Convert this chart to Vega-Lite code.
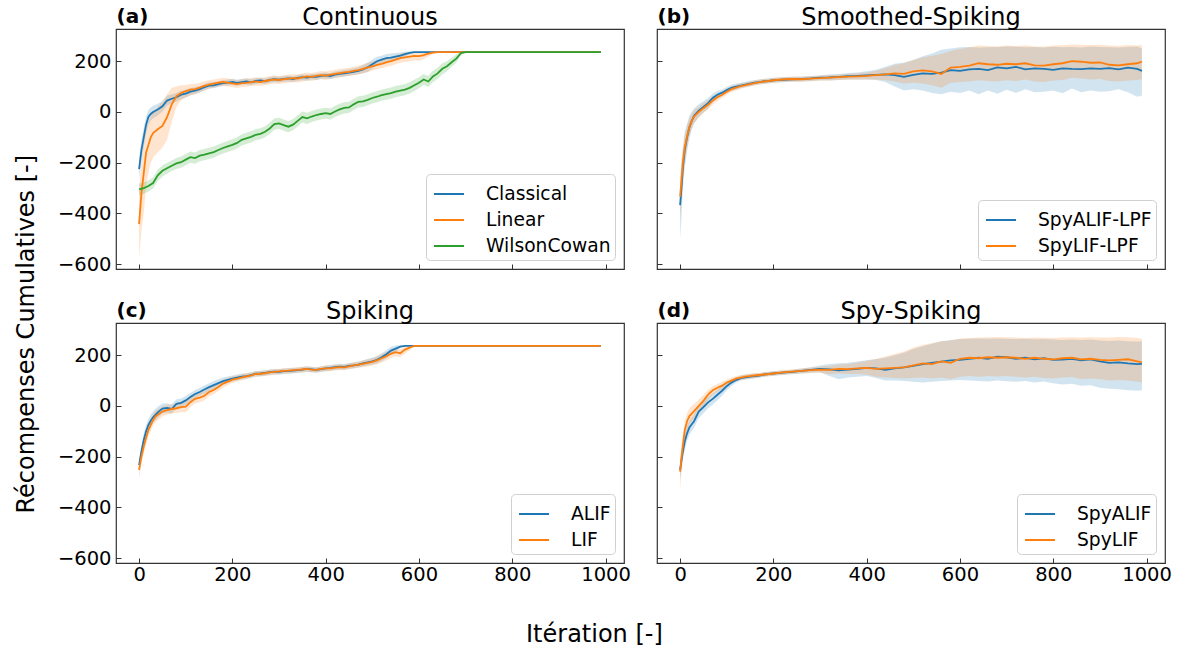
{
"$schema": "https://vega.github.io/schema/vega-lite/v6.json",
"background": "white",
"padding": {"left": 14, "top": 5, "right": 5, "bottom": 5},
"config": {
  "font": "DejaVu Sans",
  "view": {"stroke": "#333333", "strokeWidth": 1.2},
  "axis": {"grid": false, "domain": false, "tickSize": -5, "tickColor": "#333333", "tickWidth": 1, "labelFontSize": 19.5, "labelColor": "#000000", "labelFlush": false, "labelOverlap": false},
  "axisX": {"labelPadding": 7, "format": "d"},
  "axisY": {"labelPadding": 10},
  "title": {"fontSize": 24, "fontWeight": "normal", "color": "#000000"},
  "legend": {"orient": "bottom-right", "offset": 9, "symbolType": "stroke", "symbolStrokeWidth": 2, "symbolSize": 900, "symbolOffset": 3, "symbolOpacity": 1, "labelFontSize": 18.7, "labelOffset": 21, "rowPadding": -1, "padding": 4, "strokeColor": "#d0d0d0", "fillColor": "rgba(255,255,255,0.8)", "cornerRadius": 4, "labelLimit": 300, "labelColor": "#000000"}
},
"datasets": {
"a": [
{"s":"Classical","x":0,"m":-225,"lo":-265,"hi":-185},{"s":"Classical","x":5,"m":-150,"lo":-190,"hi":-110},{"s":"Classical","x":10,"m":-100,"lo":-140,"hi":-62},{"s":"Classical","x":15,"m":-50,"lo":-85,"hi":-18},{"s":"Classical","x":20,"m":-20,"lo":-50,"hi":8},{"s":"Classical","x":25,"m":-8,"lo":-33,"hi":18},{"s":"Classical","x":30,"m":0,"lo":-25,"hi":24},{"s":"Classical","x":35,"m":5,"lo":-20,"hi":28},{"s":"Classical","x":40,"m":10,"lo":-14,"hi":32},{"s":"Classical","x":50,"m":22,"lo":2,"hi":42},{"s":"Classical","x":60,"m":45,"lo":25,"hi":64},{"s":"Classical","x":70,"m":52,"lo":34,"hi":70},{"s":"Classical","x":80,"m":58,"lo":40,"hi":75},{"s":"Classical","x":90,"m":68,"lo":50,"hi":85},{"s":"Classical","x":100,"m":72,"lo":57,"hi":88},{"s":"Classical","x":110,"m":80,"lo":66,"hi":94},{"s":"Classical","x":120,"m":84,"lo":71,"hi":97},{"s":"Classical","x":130,"m":90,"lo":77,"hi":102},{"s":"Classical","x":140,"m":98,"lo":86,"hi":110},{"s":"Classical","x":150,"m":104,"lo":92,"hi":116},{"s":"Classical","x":160,"m":105,"lo":93,"hi":118},{"s":"Classical","x":170,"m":110,"lo":98,"hi":121},{"s":"Classical","x":180,"m":114,"lo":103,"hi":126},{"s":"Classical","x":190,"m":116,"lo":104,"hi":128},{"s":"Classical","x":200,"m":118,"lo":106,"hi":131},{"s":"Classical","x":210,"m":115,"lo":103,"hi":127},{"s":"Classical","x":220,"m":118,"lo":107,"hi":130},{"s":"Classical","x":230,"m":120,"lo":108,"hi":133},{"s":"Classical","x":240,"m":117,"lo":105,"hi":129},{"s":"Classical","x":250,"m":122,"lo":110,"hi":134},{"s":"Classical","x":260,"m":124,"lo":113,"hi":136},{"s":"Classical","x":270,"m":121,"lo":109,"hi":132},{"s":"Classical","x":280,"m":126,"lo":115,"hi":138},{"s":"Classical","x":290,"m":129,"lo":117,"hi":141},{"s":"Classical","x":300,"m":127,"lo":116,"hi":139},{"s":"Classical","x":310,"m":130,"lo":119,"hi":142},{"s":"Classical","x":320,"m":132,"lo":120,"hi":144},{"s":"Classical","x":330,"m":130,"lo":118,"hi":141},{"s":"Classical","x":340,"m":134,"lo":123,"hi":146},{"s":"Classical","x":350,"m":137,"lo":125,"hi":149},{"s":"Classical","x":360,"m":135,"lo":123,"hi":147},{"s":"Classical","x":370,"m":139,"lo":128,"hi":150},{"s":"Classical","x":380,"m":138,"lo":126,"hi":151},{"s":"Classical","x":390,"m":142,"lo":131,"hi":154},{"s":"Classical","x":400,"m":144,"lo":132,"hi":156},{"s":"Classical","x":410,"m":141,"lo":129,"hi":153},{"s":"Classical","x":420,"m":147,"lo":135,"hi":159},{"s":"Classical","x":430,"m":150,"lo":138,"hi":162},{"s":"Classical","x":440,"m":152,"lo":140,"hi":165},{"s":"Classical","x":450,"m":155,"lo":143,"hi":168},{"s":"Classical","x":460,"m":158,"lo":145,"hi":171},{"s":"Classical","x":470,"m":162,"lo":149,"hi":176},{"s":"Classical","x":480,"m":168,"lo":153,"hi":184},{"s":"Classical","x":490,"m":176,"lo":158,"hi":195},{"s":"Classical","x":500,"m":188,"lo":170,"hi":206},{"s":"Classical","x":510,"m":200,"lo":182,"hi":218},{"s":"Classical","x":520,"m":206,"lo":190,"hi":222},{"s":"Classical","x":530,"m":212,"lo":196,"hi":228},{"s":"Classical","x":540,"m":214,"lo":199,"hi":230},{"s":"Classical","x":550,"m":218,"lo":204,"hi":232},{"s":"Classical","x":560,"m":222,"lo":210,"hi":234},{"s":"Classical","x":570,"m":228,"lo":219,"hi":237},{"s":"Classical","x":580,"m":233,"lo":228,"hi":238},{"s":"Classical","x":590,"m":236,"lo":234,"hi":238},{"s":"Classical","x":600,"m":236,"lo":236,"hi":236},{"s":"Classical","x":990,"m":236,"lo":236,"hi":236},
{"s":"Linear","x":0,"m":-442,"lo":-577,"hi":-310},{"s":"Linear","x":5,"m":-320,"lo":-470,"hi":-190},{"s":"Linear","x":10,"m":-241,"lo":-400,"hi":-120},{"s":"Linear","x":15,"m":-160,"lo":-290,"hi":-60},{"s":"Linear","x":20,"m":-130,"lo":-240,"hi":-40},{"s":"Linear","x":25,"m":-100,"lo":-200,"hi":-20},{"s":"Linear","x":30,"m":-83,"lo":-180,"hi":0},{"s":"Linear","x":40,"m":-68,"lo":-160,"hi":20},{"s":"Linear","x":50,"m":-55,"lo":-140,"hi":40},{"s":"Linear","x":60,"m":-20,"lo":-110,"hi":70},{"s":"Linear","x":70,"m":30,"lo":-40,"hi":95},{"s":"Linear","x":80,"m":62,"lo":20,"hi":100},{"s":"Linear","x":90,"m":75,"lo":45,"hi":105},{"s":"Linear","x":100,"m":82,"lo":57,"hi":106},{"s":"Linear","x":110,"m":88,"lo":65,"hi":110},{"s":"Linear","x":120,"m":90,"lo":70,"hi":111},{"s":"Linear","x":130,"m":96,"lo":77,"hi":115},{"s":"Linear","x":140,"m":103,"lo":85,"hi":121},{"s":"Linear","x":150,"m":108,"lo":91,"hi":125},{"s":"Linear","x":160,"m":112,"lo":96,"hi":128},{"s":"Linear","x":170,"m":116,"lo":100,"hi":132},{"s":"Linear","x":180,"m":118,"lo":102,"hi":134},{"s":"Linear","x":190,"m":116,"lo":100,"hi":132},{"s":"Linear","x":200,"m":113,"lo":97,"hi":129},{"s":"Linear","x":210,"m":110,"lo":94,"hi":126},{"s":"Linear","x":220,"m":114,"lo":98,"hi":130},{"s":"Linear","x":230,"m":115,"lo":99,"hi":131},{"s":"Linear","x":240,"m":118,"lo":102,"hi":134},{"s":"Linear","x":250,"m":120,"lo":104,"hi":136},{"s":"Linear","x":260,"m":118,"lo":102,"hi":134},{"s":"Linear","x":270,"m":122,"lo":106,"hi":138},{"s":"Linear","x":280,"m":125,"lo":109,"hi":141},{"s":"Linear","x":290,"m":128,"lo":112,"hi":144},{"s":"Linear","x":300,"m":126,"lo":110,"hi":142},{"s":"Linear","x":310,"m":129,"lo":113,"hi":145},{"s":"Linear","x":320,"m":131,"lo":115,"hi":147},{"s":"Linear","x":330,"m":133,"lo":117,"hi":149},{"s":"Linear","x":340,"m":132,"lo":116,"hi":148},{"s":"Linear","x":350,"m":136,"lo":120,"hi":152},{"s":"Linear","x":360,"m":140,"lo":124,"hi":156},{"s":"Linear","x":370,"m":138,"lo":122,"hi":154},{"s":"Linear","x":380,"m":142,"lo":126,"hi":158},{"s":"Linear","x":390,"m":145,"lo":129,"hi":161},{"s":"Linear","x":400,"m":143,"lo":127,"hi":159},{"s":"Linear","x":410,"m":147,"lo":131,"hi":163},{"s":"Linear","x":420,"m":150,"lo":134,"hi":166},{"s":"Linear","x":430,"m":153,"lo":137,"hi":169},{"s":"Linear","x":440,"m":156,"lo":140,"hi":172},{"s":"Linear","x":450,"m":158,"lo":142,"hi":174},{"s":"Linear","x":460,"m":162,"lo":146,"hi":178},{"s":"Linear","x":470,"m":165,"lo":148,"hi":182},{"s":"Linear","x":480,"m":170,"lo":152,"hi":188},{"s":"Linear","x":490,"m":176,"lo":158,"hi":194},{"s":"Linear","x":500,"m":180,"lo":162,"hi":198},{"s":"Linear","x":510,"m":186,"lo":168,"hi":204},{"s":"Linear","x":520,"m":190,"lo":172,"hi":208},{"s":"Linear","x":530,"m":195,"lo":177,"hi":213},{"s":"Linear","x":540,"m":200,"lo":182,"hi":218},{"s":"Linear","x":550,"m":206,"lo":188,"hi":224},{"s":"Linear","x":560,"m":212,"lo":194,"hi":230},{"s":"Linear","x":570,"m":215,"lo":197,"hi":233},{"s":"Linear","x":580,"m":218,"lo":200,"hi":236},{"s":"Linear","x":590,"m":221,"lo":203,"hi":238},{"s":"Linear","x":600,"m":220,"lo":202,"hi":238},{"s":"Linear","x":610,"m":224,"lo":208,"hi":240},{"s":"Linear","x":620,"m":230,"lo":218,"hi":240},{"s":"Linear","x":630,"m":234,"lo":228,"hi":239},{"s":"Linear","x":640,"m":236,"lo":235,"hi":237},{"s":"Linear","x":650,"m":236,"lo":236,"hi":236},{"s":"Linear","x":990,"m":236,"lo":236,"hi":236},
{"s":"WilsonCowan","x":0,"m":-305,"lo":-328,"hi":-282},{"s":"WilsonCowan","x":10,"m":-300,"lo":-322,"hi":-278},{"s":"WilsonCowan","x":20,"m":-292,"lo":-314,"hi":-270},{"s":"WilsonCowan","x":30,"m":-280,"lo":-302,"hi":-258},{"s":"WilsonCowan","x":40,"m":-250,"lo":-272,"hi":-228},{"s":"WilsonCowan","x":50,"m":-232,"lo":-254,"hi":-210},{"s":"WilsonCowan","x":60,"m":-222,"lo":-244,"hi":-200},{"s":"WilsonCowan","x":70,"m":-212,"lo":-233,"hi":-191},{"s":"WilsonCowan","x":80,"m":-203,"lo":-225,"hi":-181},{"s":"WilsonCowan","x":90,"m":-198,"lo":-220,"hi":-176},{"s":"WilsonCowan","x":100,"m":-188,"lo":-210,"hi":-166},{"s":"WilsonCowan","x":110,"m":-178,"lo":-200,"hi":-156},{"s":"WilsonCowan","x":120,"m":-182,"lo":-204,"hi":-160},{"s":"WilsonCowan","x":130,"m":-172,"lo":-194,"hi":-150},{"s":"WilsonCowan","x":140,"m":-168,"lo":-190,"hi":-146},{"s":"WilsonCowan","x":150,"m":-163,"lo":-185,"hi":-141},{"s":"WilsonCowan","x":160,"m":-158,"lo":-180,"hi":-136},{"s":"WilsonCowan","x":170,"m":-150,"lo":-172,"hi":-128},{"s":"WilsonCowan","x":180,"m":-142,"lo":-164,"hi":-120},{"s":"WilsonCowan","x":190,"m":-136,"lo":-158,"hi":-114},{"s":"WilsonCowan","x":200,"m":-130,"lo":-152,"hi":-108},{"s":"WilsonCowan","x":210,"m":-122,"lo":-144,"hi":-100},{"s":"WilsonCowan","x":220,"m":-110,"lo":-132,"hi":-88},{"s":"WilsonCowan","x":230,"m":-104,"lo":-126,"hi":-82},{"s":"WilsonCowan","x":240,"m":-98,"lo":-120,"hi":-76},{"s":"WilsonCowan","x":250,"m":-90,"lo":-112,"hi":-68},{"s":"WilsonCowan","x":260,"m":-86,"lo":-108,"hi":-64},{"s":"WilsonCowan","x":270,"m":-78,"lo":-100,"hi":-56},{"s":"WilsonCowan","x":280,"m":-65,"lo":-87,"hi":-43},{"s":"WilsonCowan","x":290,"m":-48,"lo":-70,"hi":-26},{"s":"WilsonCowan","x":300,"m":-45,"lo":-67,"hi":-23},{"s":"WilsonCowan","x":310,"m":-52,"lo":-74,"hi":-30},{"s":"WilsonCowan","x":320,"m":-58,"lo":-80,"hi":-36},{"s":"WilsonCowan","x":330,"m":-50,"lo":-72,"hi":-28},{"s":"WilsonCowan","x":340,"m":-35,"lo":-57,"hi":-13},{"s":"WilsonCowan","x":350,"m":-20,"lo":-42,"hi":2},{"s":"WilsonCowan","x":360,"m":-25,"lo":-47,"hi":-3},{"s":"WilsonCowan","x":370,"m":-18,"lo":-40,"hi":4},{"s":"WilsonCowan","x":380,"m":-12,"lo":-34,"hi":10},{"s":"WilsonCowan","x":390,"m":-8,"lo":-30,"hi":14},{"s":"WilsonCowan","x":400,"m":-5,"lo":-27,"hi":17},{"s":"WilsonCowan","x":410,"m":-8,"lo":-30,"hi":14},{"s":"WilsonCowan","x":420,"m":2,"lo":-20,"hi":24},{"s":"WilsonCowan","x":430,"m":10,"lo":-12,"hi":32},{"s":"WilsonCowan","x":440,"m":16,"lo":-6,"hi":38},{"s":"WilsonCowan","x":450,"m":18,"lo":-4,"hi":40},{"s":"WilsonCowan","x":460,"m":30,"lo":8,"hi":52},{"s":"WilsonCowan","x":470,"m":40,"lo":18,"hi":62},{"s":"WilsonCowan","x":480,"m":42,"lo":20,"hi":64},{"s":"WilsonCowan","x":490,"m":48,"lo":26,"hi":70},{"s":"WilsonCowan","x":500,"m":55,"lo":33,"hi":77},{"s":"WilsonCowan","x":510,"m":60,"lo":38,"hi":82},{"s":"WilsonCowan","x":520,"m":66,"lo":44,"hi":88},{"s":"WilsonCowan","x":530,"m":70,"lo":48,"hi":92},{"s":"WilsonCowan","x":540,"m":74,"lo":52,"hi":96},{"s":"WilsonCowan","x":550,"m":80,"lo":58,"hi":102},{"s":"WilsonCowan","x":560,"m":84,"lo":62,"hi":106},{"s":"WilsonCowan","x":570,"m":88,"lo":66,"hi":110},{"s":"WilsonCowan","x":580,"m":95,"lo":73,"hi":117},{"s":"WilsonCowan","x":590,"m":105,"lo":83,"hi":127},{"s":"WilsonCowan","x":600,"m":115,"lo":93,"hi":137},{"s":"WilsonCowan","x":610,"m":128,"lo":106,"hi":150},{"s":"WilsonCowan","x":620,"m":120,"lo":98,"hi":142},{"s":"WilsonCowan","x":630,"m":140,"lo":118,"hi":162},{"s":"WilsonCowan","x":640,"m":152,"lo":130,"hi":174},{"s":"WilsonCowan","x":650,"m":170,"lo":148,"hi":192},{"s":"WilsonCowan","x":660,"m":180,"lo":160,"hi":200},{"s":"WilsonCowan","x":670,"m":196,"lo":178,"hi":214},{"s":"WilsonCowan","x":680,"m":210,"lo":194,"hi":226},{"s":"WilsonCowan","x":690,"m":232,"lo":225,"hi":239},{"s":"WilsonCowan","x":700,"m":236,"lo":236,"hi":236},{"s":"WilsonCowan","x":990,"m":236,"lo":236,"hi":236}
],
"b": [
{"s":"SpyALIF-LPF","x":0,"m":-367,"lo":-500,"hi":-290},{"s":"SpyALIF-LPF","x":3,"m":-300,"lo":-420,"hi":-200},{"s":"SpyALIF-LPF","x":6,"m":-220,"lo":-300,"hi":-140},{"s":"SpyALIF-LPF","x":10,"m":-150,"lo":-220,"hi":-80},{"s":"SpyALIF-LPF","x":15,"m":-100,"lo":-155,"hi":-45},{"s":"SpyALIF-LPF","x":20,"m":-60,"lo":-105,"hi":-15},{"s":"SpyALIF-LPF","x":25,"m":-35,"lo":-70,"hi":0},{"s":"SpyALIF-LPF","x":30,"m":-15,"lo":-45,"hi":15},{"s":"SpyALIF-LPF","x":40,"m":5,"lo":-20,"hi":30},{"s":"SpyALIF-LPF","x":50,"m":20,"lo":-2,"hi":42},{"s":"SpyALIF-LPF","x":60,"m":35,"lo":15,"hi":55},{"s":"SpyALIF-LPF","x":70,"m":55,"lo":37,"hi":73},{"s":"SpyALIF-LPF","x":80,"m":68,"lo":53,"hi":83},{"s":"SpyALIF-LPF","x":90,"m":76,"lo":63,"hi":89},{"s":"SpyALIF-LPF","x":100,"m":86,"lo":74,"hi":98},{"s":"SpyALIF-LPF","x":110,"m":95,"lo":83,"hi":107},{"s":"SpyALIF-LPF","x":120,"m":100,"lo":88,"hi":112},{"s":"SpyALIF-LPF","x":130,"m":104,"lo":93,"hi":115},{"s":"SpyALIF-LPF","x":140,"m":108,"lo":97,"hi":119},{"s":"SpyALIF-LPF","x":150,"m":112,"lo":101,"hi":123},{"s":"SpyALIF-LPF","x":160,"m":116,"lo":106,"hi":126},{"s":"SpyALIF-LPF","x":170,"m":118,"lo":108,"hi":128},{"s":"SpyALIF-LPF","x":180,"m":121,"lo":111,"hi":131},{"s":"SpyALIF-LPF","x":190,"m":122,"lo":112,"hi":132},{"s":"SpyALIF-LPF","x":200,"m":125,"lo":115,"hi":135},{"s":"SpyALIF-LPF","x":220,"m":127,"lo":117,"hi":137},{"s":"SpyALIF-LPF","x":240,"m":129,"lo":119,"hi":139},{"s":"SpyALIF-LPF","x":260,"m":130,"lo":120,"hi":140},{"s":"SpyALIF-LPF","x":280,"m":132,"lo":122,"hi":142},{"s":"SpyALIF-LPF","x":300,"m":135,"lo":125,"hi":145},{"s":"SpyALIF-LPF","x":320,"m":136,"lo":124,"hi":148},{"s":"SpyALIF-LPF","x":340,"m":138,"lo":126,"hi":150},{"s":"SpyALIF-LPF","x":360,"m":141,"lo":128,"hi":154},{"s":"SpyALIF-LPF","x":380,"m":142,"lo":128,"hi":156},{"s":"SpyALIF-LPF","x":400,"m":144,"lo":128,"hi":160},{"s":"SpyALIF-LPF","x":420,"m":146,"lo":126,"hi":166},{"s":"SpyALIF-LPF","x":440,"m":148,"lo":118,"hi":178},{"s":"SpyALIF-LPF","x":460,"m":145,"lo":100,"hi":190},{"s":"SpyALIF-LPF","x":480,"m":138,"lo":85,"hi":195},{"s":"SpyALIF-LPF","x":500,"m":146,"lo":90,"hi":205},{"s":"SpyALIF-LPF","x":520,"m":152,"lo":85,"hi":220},{"s":"SpyALIF-LPF","x":540,"m":150,"lo":75,"hi":230},{"s":"SpyALIF-LPF","x":560,"m":155,"lo":70,"hi":245},{"s":"SpyALIF-LPF","x":580,"m":165,"lo":80,"hi":250},{"s":"SpyALIF-LPF","x":600,"m":162,"lo":75,"hi":255},{"s":"SpyALIF-LPF","x":620,"m":168,"lo":85,"hi":256},{"s":"SpyALIF-LPF","x":640,"m":170,"lo":70,"hi":254},{"s":"SpyALIF-LPF","x":660,"m":165,"lo":85,"hi":255},{"s":"SpyALIF-LPF","x":680,"m":176,"lo":72,"hi":256},{"s":"SpyALIF-LPF","x":700,"m":172,"lo":88,"hi":258},{"s":"SpyALIF-LPF","x":720,"m":178,"lo":75,"hi":257},{"s":"SpyALIF-LPF","x":740,"m":168,"lo":90,"hi":255},{"s":"SpyALIF-LPF","x":760,"m":172,"lo":78,"hi":256},{"s":"SpyALIF-LPF","x":780,"m":170,"lo":80,"hi":254},{"s":"SpyALIF-LPF","x":800,"m":166,"lo":85,"hi":257},{"s":"SpyALIF-LPF","x":820,"m":172,"lo":74,"hi":255},{"s":"SpyALIF-LPF","x":840,"m":170,"lo":92,"hi":256},{"s":"SpyALIF-LPF","x":860,"m":169,"lo":78,"hi":254},{"s":"SpyALIF-LPF","x":880,"m":172,"lo":85,"hi":258},{"s":"SpyALIF-LPF","x":900,"m":170,"lo":80,"hi":256},{"s":"SpyALIF-LPF","x":920,"m":173,"lo":82,"hi":255},{"s":"SpyALIF-LPF","x":940,"m":168,"lo":90,"hi":254},{"s":"SpyALIF-LPF","x":960,"m":175,"lo":78,"hi":256},{"s":"SpyALIF-LPF","x":980,"m":170,"lo":60,"hi":258},{"s":"SpyALIF-LPF","x":990,"m":162,"lo":65,"hi":250},
{"s":"SpyLIF-LPF","x":0,"m":-334,"lo":-420,"hi":-260},{"s":"SpyLIF-LPF","x":3,"m":-270,"lo":-360,"hi":-190},{"s":"SpyLIF-LPF","x":6,"m":-200,"lo":-270,"hi":-140},{"s":"SpyLIF-LPF","x":10,"m":-140,"lo":-200,"hi":-90},{"s":"SpyLIF-LPF","x":15,"m":-95,"lo":-140,"hi":-55},{"s":"SpyLIF-LPF","x":20,"m":-58,"lo":-95,"hi":-25},{"s":"SpyLIF-LPF","x":25,"m":-35,"lo":-65,"hi":-8},{"s":"SpyLIF-LPF","x":30,"m":-18,"lo":-45,"hi":8},{"s":"SpyLIF-LPF","x":40,"m":0,"lo":-22,"hi":20},{"s":"SpyLIF-LPF","x":50,"m":15,"lo":-5,"hi":35},{"s":"SpyLIF-LPF","x":60,"m":28,"lo":10,"hi":46},{"s":"SpyLIF-LPF","x":70,"m":45,"lo":28,"hi":62},{"s":"SpyLIF-LPF","x":80,"m":58,"lo":43,"hi":73},{"s":"SpyLIF-LPF","x":90,"m":68,"lo":55,"hi":81},{"s":"SpyLIF-LPF","x":100,"m":80,"lo":68,"hi":92},{"s":"SpyLIF-LPF","x":110,"m":90,"lo":79,"hi":101},{"s":"SpyLIF-LPF","x":120,"m":96,"lo":85,"hi":107},{"s":"SpyLIF-LPF","x":130,"m":102,"lo":91,"hi":113},{"s":"SpyLIF-LPF","x":140,"m":106,"lo":96,"hi":116},{"s":"SpyLIF-LPF","x":150,"m":110,"lo":100,"hi":120},{"s":"SpyLIF-LPF","x":160,"m":114,"lo":104,"hi":124},{"s":"SpyLIF-LPF","x":170,"m":118,"lo":108,"hi":128},{"s":"SpyLIF-LPF","x":180,"m":120,"lo":110,"hi":130},{"s":"SpyLIF-LPF","x":190,"m":122,"lo":112,"hi":132},{"s":"SpyLIF-LPF","x":200,"m":125,"lo":115,"hi":135},{"s":"SpyLIF-LPF","x":220,"m":128,"lo":118,"hi":138},{"s":"SpyLIF-LPF","x":240,"m":130,"lo":120,"hi":140},{"s":"SpyLIF-LPF","x":260,"m":129,"lo":119,"hi":139},{"s":"SpyLIF-LPF","x":280,"m":131,"lo":121,"hi":141},{"s":"SpyLIF-LPF","x":300,"m":133,"lo":123,"hi":143},{"s":"SpyLIF-LPF","x":320,"m":135,"lo":124,"hi":146},{"s":"SpyLIF-LPF","x":340,"m":137,"lo":126,"hi":148},{"s":"SpyLIF-LPF","x":360,"m":139,"lo":127,"hi":151},{"s":"SpyLIF-LPF","x":380,"m":140,"lo":127,"hi":153},{"s":"SpyLIF-LPF","x":400,"m":142,"lo":128,"hi":156},{"s":"SpyLIF-LPF","x":420,"m":145,"lo":128,"hi":162},{"s":"SpyLIF-LPF","x":440,"m":148,"lo":125,"hi":172},{"s":"SpyLIF-LPF","x":460,"m":152,"lo":120,"hi":185},{"s":"SpyLIF-LPF","x":480,"m":150,"lo":112,"hi":192},{"s":"SpyLIF-LPF","x":500,"m":160,"lo":115,"hi":205},{"s":"SpyLIF-LPF","x":520,"m":164,"lo":112,"hi":215},{"s":"SpyLIF-LPF","x":540,"m":160,"lo":105,"hi":222},{"s":"SpyLIF-LPF","x":560,"m":150,"lo":95,"hi":228},{"s":"SpyLIF-LPF","x":580,"m":175,"lo":115,"hi":240},{"s":"SpyLIF-LPF","x":600,"m":178,"lo":118,"hi":248},{"s":"SpyLIF-LPF","x":620,"m":183,"lo":120,"hi":255},{"s":"SpyLIF-LPF","x":640,"m":192,"lo":125,"hi":262},{"s":"SpyLIF-LPF","x":660,"m":188,"lo":122,"hi":260},{"s":"SpyLIF-LPF","x":680,"m":186,"lo":120,"hi":258},{"s":"SpyLIF-LPF","x":700,"m":190,"lo":125,"hi":262},{"s":"SpyLIF-LPF","x":720,"m":188,"lo":122,"hi":260},{"s":"SpyLIF-LPF","x":740,"m":192,"lo":128,"hi":263},{"s":"SpyLIF-LPF","x":760,"m":184,"lo":120,"hi":258},{"s":"SpyLIF-LPF","x":780,"m":183,"lo":118,"hi":258},{"s":"SpyLIF-LPF","x":800,"m":188,"lo":124,"hi":262},{"s":"SpyLIF-LPF","x":820,"m":192,"lo":126,"hi":263},{"s":"SpyLIF-LPF","x":840,"m":200,"lo":135,"hi":266},{"s":"SpyLIF-LPF","x":860,"m":198,"lo":132,"hi":265},{"s":"SpyLIF-LPF","x":880,"m":194,"lo":128,"hi":264},{"s":"SpyLIF-LPF","x":900,"m":195,"lo":130,"hi":265},{"s":"SpyLIF-LPF","x":920,"m":186,"lo":122,"hi":262},{"s":"SpyLIF-LPF","x":940,"m":184,"lo":120,"hi":260},{"s":"SpyLIF-LPF","x":960,"m":188,"lo":124,"hi":264},{"s":"SpyLIF-LPF","x":980,"m":192,"lo":126,"hi":262},{"s":"SpyLIF-LPF","x":990,"m":198,"lo":130,"hi":265}
],
"c": [
{"s":"ALIF","x":0,"m":-233,"lo":-258,"hi":-208},{"s":"ALIF","x":5,"m":-180,"lo":-205,"hi":-155},{"s":"ALIF","x":10,"m":-134,"lo":-159,"hi":-109},{"s":"ALIF","x":15,"m":-100,"lo":-125,"hi":-75},{"s":"ALIF","x":20,"m":-75,"lo":-100,"hi":-50},{"s":"ALIF","x":25,"m":-58,"lo":-82,"hi":-34},{"s":"ALIF","x":30,"m":-45,"lo":-68,"hi":-22},{"s":"ALIF","x":35,"m":-35,"lo":-58,"hi":-12},{"s":"ALIF","x":40,"m":-25,"lo":-47,"hi":-3},{"s":"ALIF","x":50,"m":-10,"lo":-30,"hi":10},{"s":"ALIF","x":60,"m":-8,"lo":-27,"hi":11},{"s":"ALIF","x":70,"m":-12,"lo":-30,"hi":6},{"s":"ALIF","x":80,"m":8,"lo":-10,"hi":26},{"s":"ALIF","x":90,"m":12,"lo":-5,"hi":29},{"s":"ALIF","x":100,"m":22,"lo":5,"hi":39},{"s":"ALIF","x":110,"m":35,"lo":19,"hi":51},{"s":"ALIF","x":120,"m":47,"lo":31,"hi":63},{"s":"ALIF","x":130,"m":55,"lo":39,"hi":71},{"s":"ALIF","x":140,"m":65,"lo":49,"hi":81},{"s":"ALIF","x":150,"m":74,"lo":58,"hi":90},{"s":"ALIF","x":160,"m":82,"lo":66,"hi":98},{"s":"ALIF","x":170,"m":90,"lo":75,"hi":105},{"s":"ALIF","x":180,"m":98,"lo":84,"hi":112},{"s":"ALIF","x":190,"m":103,"lo":90,"hi":116},{"s":"ALIF","x":200,"m":108,"lo":96,"hi":120},{"s":"ALIF","x":210,"m":112,"lo":100,"hi":124},{"s":"ALIF","x":220,"m":116,"lo":104,"hi":128},{"s":"ALIF","x":230,"m":118,"lo":107,"hi":129},{"s":"ALIF","x":240,"m":122,"lo":111,"hi":133},{"s":"ALIF","x":250,"m":127,"lo":116,"hi":138},{"s":"ALIF","x":260,"m":128,"lo":117,"hi":139},{"s":"ALIF","x":270,"m":130,"lo":119,"hi":141},{"s":"ALIF","x":280,"m":133,"lo":122,"hi":144},{"s":"ALIF","x":290,"m":135,"lo":124,"hi":146},{"s":"ALIF","x":300,"m":134,"lo":123,"hi":145},{"s":"ALIF","x":310,"m":137,"lo":126,"hi":148},{"s":"ALIF","x":320,"m":138,"lo":127,"hi":149},{"s":"ALIF","x":330,"m":139,"lo":128,"hi":150},{"s":"ALIF","x":340,"m":141,"lo":130,"hi":152},{"s":"ALIF","x":350,"m":143,"lo":132,"hi":154},{"s":"ALIF","x":360,"m":146,"lo":135,"hi":157},{"s":"ALIF","x":370,"m":144,"lo":133,"hi":155},{"s":"ALIF","x":380,"m":142,"lo":131,"hi":153},{"s":"ALIF","x":390,"m":145,"lo":134,"hi":156},{"s":"ALIF","x":400,"m":148,"lo":137,"hi":159},{"s":"ALIF","x":410,"m":150,"lo":139,"hi":161},{"s":"ALIF","x":420,"m":153,"lo":142,"hi":164},{"s":"ALIF","x":430,"m":155,"lo":144,"hi":166},{"s":"ALIF","x":440,"m":154,"lo":143,"hi":165},{"s":"ALIF","x":450,"m":158,"lo":147,"hi":169},{"s":"ALIF","x":460,"m":160,"lo":149,"hi":171},{"s":"ALIF","x":470,"m":163,"lo":152,"hi":174},{"s":"ALIF","x":480,"m":168,"lo":156,"hi":180},{"s":"ALIF","x":490,"m":172,"lo":159,"hi":185},{"s":"ALIF","x":500,"m":176,"lo":162,"hi":190},{"s":"ALIF","x":510,"m":182,"lo":167,"hi":197},{"s":"ALIF","x":520,"m":192,"lo":176,"hi":208},{"s":"ALIF","x":530,"m":204,"lo":188,"hi":220},{"s":"ALIF","x":540,"m":218,"lo":203,"hi":233},{"s":"ALIF","x":550,"m":226,"lo":213,"hi":238},{"s":"ALIF","x":560,"m":234,"lo":229,"hi":239},{"s":"ALIF","x":570,"m":237,"lo":237,"hi":237},{"s":"ALIF","x":990,"m":237,"lo":237,"hi":237},
{"s":"LIF","x":0,"m":-252,"lo":-285,"hi":-220},{"s":"LIF","x":5,"m":-200,"lo":-228,"hi":-172},{"s":"LIF","x":10,"m":-160,"lo":-186,"hi":-134},{"s":"LIF","x":15,"m":-125,"lo":-150,"hi":-100},{"s":"LIF","x":20,"m":-95,"lo":-120,"hi":-70},{"s":"LIF","x":25,"m":-75,"lo":-99,"hi":-51},{"s":"LIF","x":30,"m":-55,"lo":-78,"hi":-32},{"s":"LIF","x":35,"m":-42,"lo":-64,"hi":-20},{"s":"LIF","x":40,"m":-35,"lo":-56,"hi":-14},{"s":"LIF","x":50,"m":-22,"lo":-42,"hi":-2},{"s":"LIF","x":60,"m":-16,"lo":-35,"hi":3},{"s":"LIF","x":70,"m":-12,"lo":-31,"hi":7},{"s":"LIF","x":80,"m":-9,"lo":-28,"hi":10},{"s":"LIF","x":90,"m":-5,"lo":-25,"hi":15},{"s":"LIF","x":100,"m":-3,"lo":-25,"hi":19},{"s":"LIF","x":110,"m":15,"lo":-4,"hi":34},{"s":"LIF","x":120,"m":28,"lo":10,"hi":46},{"s":"LIF","x":130,"m":33,"lo":15,"hi":51},{"s":"LIF","x":140,"m":40,"lo":22,"hi":58},{"s":"LIF","x":150,"m":55,"lo":38,"hi":72},{"s":"LIF","x":160,"m":63,"lo":46,"hi":80},{"s":"LIF","x":170,"m":75,"lo":59,"hi":91},{"s":"LIF","x":180,"m":88,"lo":73,"hi":103},{"s":"LIF","x":190,"m":96,"lo":82,"hi":110},{"s":"LIF","x":200,"m":104,"lo":91,"hi":117},{"s":"LIF","x":210,"m":108,"lo":96,"hi":120},{"s":"LIF","x":220,"m":113,"lo":101,"hi":125},{"s":"LIF","x":230,"m":117,"lo":105,"hi":129},{"s":"LIF","x":240,"m":121,"lo":110,"hi":132},{"s":"LIF","x":250,"m":126,"lo":115,"hi":137},{"s":"LIF","x":260,"m":127,"lo":116,"hi":138},{"s":"LIF","x":270,"m":129,"lo":118,"hi":140},{"s":"LIF","x":280,"m":132,"lo":121,"hi":143},{"s":"LIF","x":290,"m":134,"lo":123,"hi":145},{"s":"LIF","x":300,"m":136,"lo":125,"hi":147},{"s":"LIF","x":310,"m":138,"lo":127,"hi":149},{"s":"LIF","x":320,"m":139,"lo":128,"hi":150},{"s":"LIF","x":330,"m":141,"lo":130,"hi":152},{"s":"LIF","x":340,"m":142,"lo":131,"hi":153},{"s":"LIF","x":350,"m":144,"lo":133,"hi":155},{"s":"LIF","x":360,"m":146,"lo":135,"hi":157},{"s":"LIF","x":370,"m":143,"lo":132,"hi":154},{"s":"LIF","x":380,"m":142,"lo":131,"hi":153},{"s":"LIF","x":390,"m":146,"lo":135,"hi":157},{"s":"LIF","x":400,"m":148,"lo":137,"hi":159},{"s":"LIF","x":410,"m":148,"lo":137,"hi":159},{"s":"LIF","x":420,"m":151,"lo":140,"hi":162},{"s":"LIF","x":430,"m":153,"lo":142,"hi":164},{"s":"LIF","x":440,"m":152,"lo":141,"hi":163},{"s":"LIF","x":450,"m":156,"lo":145,"hi":167},{"s":"LIF","x":460,"m":160,"lo":148,"hi":172},{"s":"LIF","x":470,"m":163,"lo":151,"hi":175},{"s":"LIF","x":480,"m":166,"lo":153,"hi":179},{"s":"LIF","x":490,"m":170,"lo":156,"hi":184},{"s":"LIF","x":500,"m":174,"lo":159,"hi":189},{"s":"LIF","x":510,"m":180,"lo":164,"hi":196},{"s":"LIF","x":520,"m":188,"lo":171,"hi":205},{"s":"LIF","x":530,"m":196,"lo":179,"hi":213},{"s":"LIF","x":540,"m":206,"lo":189,"hi":223},{"s":"LIF","x":550,"m":212,"lo":196,"hi":228},{"s":"LIF","x":560,"m":208,"lo":192,"hi":224},{"s":"LIF","x":570,"m":222,"lo":207,"hi":237},{"s":"LIF","x":580,"m":230,"lo":220,"hi":239},{"s":"LIF","x":590,"m":237,"lo":237,"hi":237},{"s":"LIF","x":990,"m":237,"lo":237,"hi":237}
],
"d": [
{"s":"SpyALIF","x":0,"m":-252,"lo":-290,"hi":-215},{"s":"SpyALIF","x":5,"m":-190,"lo":-225,"hi":-155},{"s":"SpyALIF","x":10,"m":-140,"lo":-172,"hi":-108},{"s":"SpyALIF","x":15,"m":-108,"lo":-138,"hi":-78},{"s":"SpyALIF","x":20,"m":-85,"lo":-113,"hi":-57},{"s":"SpyALIF","x":25,"m":-72,"lo":-99,"hi":-45},{"s":"SpyALIF","x":30,"m":-60,"lo":-86,"hi":-34},{"s":"SpyALIF","x":40,"m":-22,"lo":-47,"hi":3},{"s":"SpyALIF","x":50,"m":-5,"lo":-29,"hi":19},{"s":"SpyALIF","x":60,"m":14,"lo":-9,"hi":37},{"s":"SpyALIF","x":70,"m":28,"lo":6,"hi":50},{"s":"SpyALIF","x":80,"m":44,"lo":23,"hi":65},{"s":"SpyALIF","x":90,"m":60,"lo":40,"hi":80},{"s":"SpyALIF","x":100,"m":78,"lo":62,"hi":94},{"s":"SpyALIF","x":110,"m":92,"lo":79,"hi":105},{"s":"SpyALIF","x":120,"m":102,"lo":91,"hi":113},{"s":"SpyALIF","x":130,"m":110,"lo":100,"hi":120},{"s":"SpyALIF","x":140,"m":113,"lo":103,"hi":123},{"s":"SpyALIF","x":150,"m":116,"lo":106,"hi":126},{"s":"SpyALIF","x":160,"m":118,"lo":108,"hi":128},{"s":"SpyALIF","x":170,"m":120,"lo":111,"hi":129},{"s":"SpyALIF","x":180,"m":124,"lo":115,"hi":133},{"s":"SpyALIF","x":190,"m":126,"lo":117,"hi":135},{"s":"SpyALIF","x":200,"m":128,"lo":119,"hi":137},{"s":"SpyALIF","x":220,"m":131,"lo":122,"hi":140},{"s":"SpyALIF","x":240,"m":134,"lo":125,"hi":143},{"s":"SpyALIF","x":260,"m":138,"lo":128,"hi":148},{"s":"SpyALIF","x":280,"m":142,"lo":131,"hi":153},{"s":"SpyALIF","x":300,"m":146,"lo":133,"hi":159},{"s":"SpyALIF","x":320,"m":144,"lo":118,"hi":165},{"s":"SpyALIF","x":340,"m":140,"lo":105,"hi":168},{"s":"SpyALIF","x":360,"m":143,"lo":112,"hi":170},{"s":"SpyALIF","x":380,"m":146,"lo":115,"hi":175},{"s":"SpyALIF","x":400,"m":150,"lo":118,"hi":180},{"s":"SpyALIF","x":420,"m":148,"lo":110,"hi":185},{"s":"SpyALIF","x":440,"m":142,"lo":100,"hi":190},{"s":"SpyALIF","x":460,"m":148,"lo":100,"hi":200},{"s":"SpyALIF","x":480,"m":152,"lo":98,"hi":210},{"s":"SpyALIF","x":500,"m":158,"lo":95,"hi":225},{"s":"SpyALIF","x":520,"m":165,"lo":92,"hi":235},{"s":"SpyALIF","x":540,"m":170,"lo":95,"hi":245},{"s":"SpyALIF","x":560,"m":175,"lo":98,"hi":255},{"s":"SpyALIF","x":580,"m":180,"lo":100,"hi":260},{"s":"SpyALIF","x":600,"m":182,"lo":102,"hi":264},{"s":"SpyALIF","x":620,"m":186,"lo":100,"hi":265},{"s":"SpyALIF","x":640,"m":190,"lo":98,"hi":266},{"s":"SpyALIF","x":660,"m":186,"lo":96,"hi":265},{"s":"SpyALIF","x":680,"m":194,"lo":100,"hi":266},{"s":"SpyALIF","x":700,"m":192,"lo":97,"hi":265},{"s":"SpyALIF","x":720,"m":186,"lo":95,"hi":264},{"s":"SpyALIF","x":740,"m":190,"lo":98,"hi":265},{"s":"SpyALIF","x":760,"m":184,"lo":92,"hi":263},{"s":"SpyALIF","x":780,"m":188,"lo":96,"hi":264},{"s":"SpyALIF","x":800,"m":182,"lo":90,"hi":262},{"s":"SpyALIF","x":820,"m":183,"lo":85,"hi":260},{"s":"SpyALIF","x":840,"m":186,"lo":88,"hi":262},{"s":"SpyALIF","x":860,"m":180,"lo":80,"hi":260},{"s":"SpyALIF","x":880,"m":184,"lo":82,"hi":262},{"s":"SpyALIF","x":900,"m":176,"lo":72,"hi":258},{"s":"SpyALIF","x":920,"m":170,"lo":68,"hi":256},{"s":"SpyALIF","x":940,"m":172,"lo":66,"hi":258},{"s":"SpyALIF","x":960,"m":168,"lo":62,"hi":255},{"s":"SpyALIF","x":980,"m":165,"lo":60,"hi":254},{"s":"SpyALIF","x":990,"m":166,"lo":62,"hi":255},
{"s":"SpyLIF","x":0,"m":-259,"lo":-331,"hi":-200},{"s":"SpyLIF","x":5,"m":-170,"lo":-215,"hi":-125},{"s":"SpyLIF","x":10,"m":-95,"lo":-135,"hi":-60},{"s":"SpyLIF","x":15,"m":-60,"lo":-95,"hi":-28},{"s":"SpyLIF","x":20,"m":-40,"lo":-72,"hi":-10},{"s":"SpyLIF","x":25,"m":-30,"lo":-60,"hi":0},{"s":"SpyLIF","x":30,"m":-20,"lo":-48,"hi":8},{"s":"SpyLIF","x":40,"m":0,"lo":-25,"hi":25},{"s":"SpyLIF","x":50,"m":20,"lo":-3,"hi":42},{"s":"SpyLIF","x":60,"m":45,"lo":24,"hi":64},{"s":"SpyLIF","x":70,"m":62,"lo":44,"hi":78},{"s":"SpyLIF","x":80,"m":72,"lo":56,"hi":87},{"s":"SpyLIF","x":90,"m":80,"lo":65,"hi":94},{"s":"SpyLIF","x":100,"m":92,"lo":79,"hi":104},{"s":"SpyLIF","x":110,"m":100,"lo":89,"hi":111},{"s":"SpyLIF","x":120,"m":108,"lo":98,"hi":118},{"s":"SpyLIF","x":130,"m":112,"lo":102,"hi":122},{"s":"SpyLIF","x":140,"m":116,"lo":106,"hi":126},{"s":"SpyLIF","x":150,"m":118,"lo":108,"hi":128},{"s":"SpyLIF","x":160,"m":120,"lo":110,"hi":130},{"s":"SpyLIF","x":170,"m":122,"lo":113,"hi":131},{"s":"SpyLIF","x":180,"m":124,"lo":115,"hi":133},{"s":"SpyLIF","x":190,"m":126,"lo":117,"hi":135},{"s":"SpyLIF","x":200,"m":128,"lo":119,"hi":137},{"s":"SpyLIF","x":220,"m":132,"lo":123,"hi":141},{"s":"SpyLIF","x":240,"m":135,"lo":126,"hi":144},{"s":"SpyLIF","x":260,"m":138,"lo":128,"hi":148},{"s":"SpyLIF","x":280,"m":141,"lo":130,"hi":152},{"s":"SpyLIF","x":300,"m":143,"lo":131,"hi":155},{"s":"SpyLIF","x":320,"m":142,"lo":125,"hi":158},{"s":"SpyLIF","x":340,"m":146,"lo":128,"hi":163},{"s":"SpyLIF","x":360,"m":145,"lo":126,"hi":165},{"s":"SpyLIF","x":380,"m":148,"lo":126,"hi":170},{"s":"SpyLIF","x":400,"m":150,"lo":124,"hi":178},{"s":"SpyLIF","x":420,"m":146,"lo":115,"hi":185},{"s":"SpyLIF","x":440,"m":148,"lo":112,"hi":195},{"s":"SpyLIF","x":460,"m":150,"lo":110,"hi":205},{"s":"SpyLIF","x":480,"m":152,"lo":108,"hi":215},{"s":"SpyLIF","x":500,"m":160,"lo":110,"hi":230},{"s":"SpyLIF","x":520,"m":168,"lo":112,"hi":240},{"s":"SpyLIF","x":540,"m":165,"lo":108,"hi":248},{"s":"SpyLIF","x":560,"m":176,"lo":112,"hi":255},{"s":"SpyLIF","x":580,"m":170,"lo":105,"hi":258},{"s":"SpyLIF","x":600,"m":186,"lo":115,"hi":266},{"s":"SpyLIF","x":620,"m":190,"lo":118,"hi":268},{"s":"SpyLIF","x":640,"m":188,"lo":115,"hi":270},{"s":"SpyLIF","x":660,"m":192,"lo":118,"hi":271},{"s":"SpyLIF","x":680,"m":190,"lo":116,"hi":272},{"s":"SpyLIF","x":700,"m":192,"lo":118,"hi":271},{"s":"SpyLIF","x":720,"m":190,"lo":115,"hi":270},{"s":"SpyLIF","x":740,"m":186,"lo":112,"hi":268},{"s":"SpyLIF","x":760,"m":190,"lo":115,"hi":270},{"s":"SpyLIF","x":780,"m":186,"lo":110,"hi":269},{"s":"SpyLIF","x":800,"m":184,"lo":108,"hi":268},{"s":"SpyLIF","x":820,"m":188,"lo":112,"hi":270},{"s":"SpyLIF","x":840,"m":190,"lo":114,"hi":271},{"s":"SpyLIF","x":860,"m":184,"lo":106,"hi":270},{"s":"SpyLIF","x":880,"m":186,"lo":108,"hi":271},{"s":"SpyLIF","x":900,"m":182,"lo":105,"hi":270},{"s":"SpyLIF","x":920,"m":180,"lo":100,"hi":270},{"s":"SpyLIF","x":940,"m":182,"lo":102,"hi":272},{"s":"SpyLIF","x":960,"m":184,"lo":100,"hi":271},{"s":"SpyLIF","x":980,"m":176,"lo":95,"hi":268},{"s":"SpyLIF","x":990,"m":172,"lo":92,"hi":265}
]
},
"title": {"text": "Récompenses Cumulatives [-]", "orient": "left", "anchor": "middle", "fontSize": 24, "offset": 18, "dx": -8},
"spacing": 24,
"resolve": {"scale": {"color": "independent"}, "legend": {"color": "independent"}},
"vconcat": [
{
 "bounds": "flush",
 "spacing": 33,
 "resolve": {"scale": {"color": "independent"}, "legend": {"color": "independent"}},
 "hconcat": [
  {
   "width": 508, "height": 240,
   "title": {"text": "Continuous", "offset": -24},
   "data": {"name": "a"},
   "resolve": {"axis": {"x": "independent"}},
   "layer": [
    {"mark": {"type": "area", "opacity": 0.2},
     "encoding": {
      "x": {"field": "x", "type": "quantitative", "scale": {"domain": [-49.5, 1039.5], "nice": false, "zero": false}, "axis": {"values": [0,200,400,600,800,1000], "labels": false, "title": null}},
      "y": {"field": "lo", "type": "quantitative", "scale": {"domain": [-619, 327], "nice": false, "zero": false}, "axis": {"values": [-600,-400,-200,0,200], "title": null}},
      "y2": {"field": "hi"},
      "color": {"field": "s", "type": "nominal", "scale": {"domain": ["Classical","Linear","WilsonCowan"], "range": ["#1f77b4","#ff7f0e","#2ca02c"]}, "legend": {"orient": "bottom-right", "title": null, "symbolType": "stroke", "symbolOpacity": 1, "rowPadding": -1}}
     }},
    {"mark": {"type": "line", "strokeWidth": 1.8},
     "encoding": {
      "x": {"field": "x", "type": "quantitative", "axis": {"orient": "top", "title": "(a)", "labels": false, "ticks": false, "domain": false, "titleAnchor": "start", "titleAlign": "left", "titleFontSize": 20, "titleFontWeight": "bold", "titlePadding": 3, "titleColor": "#000000"}},
      "y": {"field": "m", "type": "quantitative"},
      "color": {"field": "s", "type": "nominal", "scale": {"domain": ["Classical","Linear","WilsonCowan"], "range": ["#1f77b4","#ff7f0e","#2ca02c"]}, "legend": {"orient": "bottom-right", "title": null, "symbolType": "stroke", "symbolOpacity": 1, "rowPadding": -1}}
     }}
   ]
  },
  {
   "width": 508, "height": 240,
   "title": {"text": "Smoothed-Spiking", "offset": -24},
   "data": {"name": "b"},
   "resolve": {"axis": {"x": "independent"}},
   "layer": [
    {"mark": {"type": "area", "opacity": 0.2},
     "encoding": {
      "x": {"field": "x", "type": "quantitative", "scale": {"domain": [-49.5, 1039.5], "nice": false, "zero": false}, "axis": {"values": [0,200,400,600,800,1000], "labels": false, "title": null}},
      "y": {"field": "lo", "type": "quantitative", "scale": {"domain": [-619, 327], "nice": false, "zero": false}, "axis": {"values": [-600,-400,-200,0,200], "labels": false, "title": null}},
      "y2": {"field": "hi"},
      "color": {"field": "s", "type": "nominal", "scale": {"domain": ["SpyALIF-LPF","SpyLIF-LPF"], "range": ["#1f77b4","#ff7f0e"]}, "legend": {"orient": "bottom-right", "title": null, "symbolType": "stroke", "symbolOpacity": 1, "rowPadding": -1}}
     }},
    {"mark": {"type": "line", "strokeWidth": 1.8},
     "encoding": {
      "x": {"field": "x", "type": "quantitative", "axis": {"orient": "top", "title": "(b)", "labels": false, "ticks": false, "domain": false, "titleAnchor": "start", "titleAlign": "left", "titleFontSize": 20, "titleFontWeight": "bold", "titlePadding": 3, "titleColor": "#000000"}},
      "y": {"field": "m", "type": "quantitative"},
      "color": {"field": "s", "type": "nominal", "scale": {"domain": ["SpyALIF-LPF","SpyLIF-LPF"], "range": ["#1f77b4","#ff7f0e"]}, "legend": {"orient": "bottom-right", "title": null, "symbolType": "stroke", "symbolOpacity": 1, "rowPadding": -1}}
     }}
   ]
  }
 ]
},
{
 "bounds": "flush",
 "spacing": 33,
 "title": {"text": "Itération [-]", "orient": "bottom", "anchor": "middle", "fontSize": 24, "offset": 39, "dx": -20},
 "resolve": {"scale": {"color": "independent"}, "legend": {"color": "independent"}},
 "hconcat": [
  {
   "width": 508, "height": 240,
   "title": {"text": "Spiking", "offset": -24},
   "data": {"name": "c"},
   "resolve": {"axis": {"x": "independent"}},
   "layer": [
    {"mark": {"type": "area", "opacity": 0.2},
     "encoding": {
      "x": {"field": "x", "type": "quantitative", "scale": {"domain": [-49.5, 1039.5], "nice": false, "zero": false}, "axis": {"values": [0,200,400,600,800,1000], "title": null}},
      "y": {"field": "lo", "type": "quantitative", "scale": {"domain": [-619, 327], "nice": false, "zero": false}, "axis": {"values": [-600,-400,-200,0,200], "title": null}},
      "y2": {"field": "hi"},
      "color": {"field": "s", "type": "nominal", "scale": {"domain": ["ALIF","LIF"], "range": ["#1f77b4","#ff7f0e"]}, "legend": {"orient": "bottom-right", "title": null, "symbolType": "stroke", "symbolOpacity": 1, "rowPadding": -1}}
     }},
    {"mark": {"type": "line", "strokeWidth": 1.8},
     "encoding": {
      "x": {"field": "x", "type": "quantitative", "axis": {"orient": "top", "title": "(c)", "labels": false, "ticks": false, "domain": false, "titleAnchor": "start", "titleAlign": "left", "titleFontSize": 20, "titleFontWeight": "bold", "titlePadding": 3, "titleColor": "#000000"}},
      "y": {"field": "m", "type": "quantitative"},
      "color": {"field": "s", "type": "nominal", "scale": {"domain": ["ALIF","LIF"], "range": ["#1f77b4","#ff7f0e"]}, "legend": {"orient": "bottom-right", "title": null, "symbolType": "stroke", "symbolOpacity": 1, "rowPadding": -1}}
     }}
   ]
  },
  {
   "width": 508, "height": 240,
   "title": {"text": "Spy-Spiking", "offset": -24},
   "data": {"name": "d"},
   "resolve": {"axis": {"x": "independent"}},
   "layer": [
    {"mark": {"type": "area", "opacity": 0.2},
     "encoding": {
      "x": {"field": "x", "type": "quantitative", "scale": {"domain": [-49.5, 1039.5], "nice": false, "zero": false}, "axis": {"values": [0,200,400,600,800,1000], "title": null}},
      "y": {"field": "lo", "type": "quantitative", "scale": {"domain": [-619, 327], "nice": false, "zero": false}, "axis": {"values": [-600,-400,-200,0,200], "labels": false, "title": null}},
      "y2": {"field": "hi"},
      "color": {"field": "s", "type": "nominal", "scale": {"domain": ["SpyALIF","SpyLIF"], "range": ["#1f77b4","#ff7f0e"]}, "legend": {"orient": "bottom-right", "title": null, "symbolType": "stroke", "symbolOpacity": 1, "rowPadding": -1}}
     }},
    {"mark": {"type": "line", "strokeWidth": 1.8},
     "encoding": {
      "x": {"field": "x", "type": "quantitative", "axis": {"orient": "top", "title": "(d)", "labels": false, "ticks": false, "domain": false, "titleAnchor": "start", "titleAlign": "left", "titleFontSize": 20, "titleFontWeight": "bold", "titlePadding": 3, "titleColor": "#000000"}},
      "y": {"field": "m", "type": "quantitative"},
      "color": {"field": "s", "type": "nominal", "scale": {"domain": ["SpyALIF","SpyLIF"], "range": ["#1f77b4","#ff7f0e"]}, "legend": {"orient": "bottom-right", "title": null, "symbolType": "stroke", "symbolOpacity": 1, "rowPadding": -1}}
     }}
   ]
  }
 ]
}
]
}
